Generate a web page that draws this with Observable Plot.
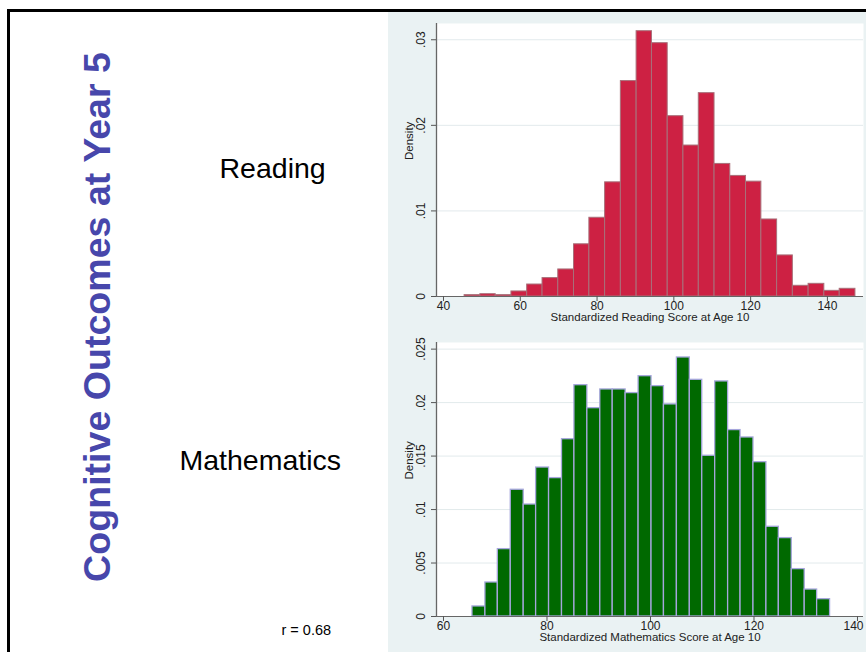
<!DOCTYPE html>
<html>
<head>
<meta charset="utf-8">
<script src="https://cdn.jsdelivr.net/npm/d3@7"></script>
<script src="https://cdn.jsdelivr.net/npm/@observablehq/plot@0.6"></script>
<style>
  html, body { margin: 0; padding: 0; background: #ffffff; }
  #page { position: relative; width: 866px; height: 652px; overflow: hidden; background: #ffffff; font-family: "Liberation Sans", Arial, sans-serif; }
  #border { position: absolute; left: 7px; top: 9px; width: 866px; height: 660px; border-left: 3px solid #000; border-top: 3px solid #000; }
  #chartbg { position: absolute; left: 388px; top: 12px; width: 478px; height: 640px; background: #eaf2f3; }
  #left { position: absolute; left: 0; top: 0; }
  .chart { position: absolute; left: 388px; }
</style>
</head>
<body>
<div id="page">
  <div id="border"></div>
  <div id="chartbg"></div>
  <svg id="left" width="388" height="652">
    <text id="title" transform="translate(110,317) rotate(-90)" text-anchor="middle" font-family="Liberation Sans, Arial, sans-serif" font-weight="bold" font-size="37.6" fill="#4747ab"></text>
    <text id="lab1" x="219.5" y="178" font-family="Liberation Sans, Arial, sans-serif" font-size="28.5" fill="#000"></text>
    <text id="lab2" x="179.5" y="470" font-family="Liberation Sans, Arial, sans-serif" font-size="28.5" fill="#000"></text>
    <text id="corr" x="281.5" y="635" font-family="Liberation Sans, Arial, sans-serif" font-size="14.5" fill="#000"></text>
  </svg>
  <div id="top" class="chart" style="top:12px"></div>
  <div id="bottom" class="chart" style="top:330px"></div>
</div>
<script>
// ---- Text ----
const slideTitle = "Cognitive Outcomes at Year 5";
const panelLabels = ["Reading", "Mathematics"];
const correlationText = "r = 0.68";

// ---- Reading histogram (bin edges and densities) ----
const readingEdges = [45.5, 49.6, 53.6, 57.7, 61.8, 65.8, 69.9, 74.0, 78.0, 82.1, 86.2, 90.3, 94.3,
  98.4, 102.5, 106.5, 110.6, 114.7, 118.8, 122.8, 126.9, 131.0, 135.1, 139.2, 143.2, 147.3];
const readingDensity = [0.00016, 0.00027, 0.00016, 0.00059, 0.0014, 0.00215, 0.00316, 0.0061, 0.0092,
  0.01334, 0.02517, 0.0310, 0.0296, 0.02107, 0.01764, 0.02376, 0.01549, 0.01409, 0.01342, 0.0090,
  0.0048, 0.00125, 0.00148, 0.00066, 0.0009];
const readingXTicks = [40, 60, 80, 100, 120, 140];
const readingYTicks = [0, 0.01, 0.02, 0.03];
const readingYTickLabels = ["0", ".01", ".02", ".03"];
const readingXTitle = "Standardized Reading Score at Age 10";

// ---- Mathematics histogram ----
const mathEdges = [65.6, 68.1, 70.5, 73.0, 75.5, 77.9, 80.4, 82.9, 85.3, 87.8, 90.3, 92.7, 95.2, 97.7,
  100.2, 102.6, 105.1, 107.6, 110.0, 112.5, 115.0, 117.4, 119.9, 122.4, 124.8, 127.3, 129.8, 132.2, 134.7];
const mathDensity = [0.00094, 0.00318, 0.0063, 0.01185, 0.01047, 0.01393, 0.01294, 0.01658, 0.02163,
  0.01948, 0.02123, 0.02123, 0.02089, 0.02247, 0.02154, 0.01983, 0.02422, 0.02213, 0.01503, 0.02198,
  0.01743, 0.01674, 0.01443, 0.00839, 0.00733, 0.00443, 0.00252, 0.00162];
const mathXTicks = [60, 80, 100, 120, 140];
const mathYTicks = [0, 0.005, 0.01, 0.015, 0.02, 0.025];
const mathYTickLabels = ["0", ".005", ".01", ".015", ".02", ".025"];
const mathXTitle = "Standardized Mathematics Score at Age 10";

const yTitle = "Density";

document.getElementById("title").textContent = slideTitle;
document.getElementById("lab1").textContent = panelLabels[0];
document.getElementById("lab2").textContent = panelLabels[1];
document.getElementById("corr").textContent = correlationText;

function histogram({edges, density, xDomain, yDomain, xTicks, yTicks, yTickLabels, xTitle,
                    fill, stroke, strokeWidth, height, marginTop, marginBottom, lastTickInside}) {
  const bins = density.map((d, i) => ({x1: edges[i], x2: edges[i + 1], density: d}));
  const yLabels = yTicks.map((v, i) => ({v, label: yTickLabels[i]}));
  const mainTicks = lastTickInside ? xTicks.slice(0, -1) : xTicks;
  const edgeTicks = lastTickInside ? xTicks.slice(-1) : [];
  return Plot.plot({
    width: 478,
    height,
    marginLeft: 48,
    marginRight: 3,
    marginTop,
    marginBottom,
    x: {domain: xDomain, axis: null},
    y: {domain: yDomain, axis: null},
    style: {background: "transparent", fontFamily: "Liberation Sans, Arial, sans-serif", fontSize: "12px", color: "#222", overflow: "visible"},
    marks: [
      Plot.frame({fill: "#ffffff", stroke: "none"}),
      Plot.gridY(yTicks, {stroke: "#e2eaec", strokeOpacity: 1, strokeWidth: 1}),
      Plot.rectY(bins, {x1: "x1", x2: "x2", y: "density", fill, stroke, strokeWidth}),
      Plot.ruleX([xDomain[0]], {stroke: "#666", strokeWidth: 1.3}),
      Plot.ruleY([0], {stroke: "#666", strokeWidth: 1}),
      Plot.axisY(yTicks, {tickSize: 5, tickFormat: () => "", label: null, stroke: "#555"}),
      Plot.text(yLabels, {y: "v", text: "label", frameAnchor: "left", dx: -15, rotate: -90, textAnchor: "middle", fontSize: 12, fill: "#222"}),
      Plot.text([yTitle], {frameAnchor: "left", dx: -27, rotate: -90, fontSize: 11.5, fill: "#222"}),
      Plot.axisX(xTicks, {tickSize: 5, tickFormat: () => "", label: null, stroke: "#555"}),
      Plot.text(mainTicks, {x: d => d, frameAnchor: "bottom", dy: 13, text: d => String(d), fontSize: 12, fill: "#222"}),
      Plot.text(edgeTicks, {x: d => d, frameAnchor: "bottom", dy: 13, dx: 6, textAnchor: "end", text: d => String(d), fontSize: 12, fill: "#222"}),
      Plot.text([xTitle], {frameAnchor: "bottom", dy: 24, fontSize: 11.5, fill: "#222"})
    ]
  });
}

document.getElementById("top").appendChild(histogram({
  edges: readingEdges, density: readingDensity,
  xDomain: [38.18, 149.4], yDomain: [0, 0.0319],
  xTicks: readingXTicks, yTicks: readingYTicks, yTickLabels: readingYTickLabels, xTitle: readingXTitle,
  fill: "#cd2143", stroke: "#a8707a", strokeWidth: 1,
  height: 318, marginTop: 11, marginBottom: 34, lastTickInside: false
}));

document.getElementById("bottom").appendChild(histogram({
  edges: mathEdges, density: mathDensity,
  xDomain: [58.65, 141.16], yDomain: [0, 0.02562],
  xTicks: mathXTicks, yTicks: mathYTicks, yTickLabels: mathYTickLabels, xTitle: mathXTitle,
  fill: "#006900", stroke: "#a6a6dc", strokeWidth: 1.3,
  height: 322, marginTop: 12, marginBottom: 36, lastTickInside: true
}));
</script>
</body>
</html>
